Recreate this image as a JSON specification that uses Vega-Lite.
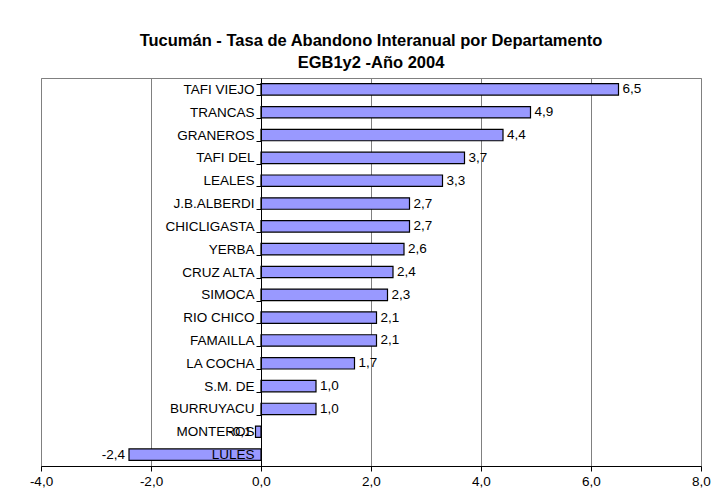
{
  "$schema": "https://vega.github.io/schema/vega-lite/v6.json",
  "width": 660,
  "height": 388,
  "autosize": {"type": "none"},
  "padding": {"left": 41, "top": 78, "right": 18, "bottom": 27},
  "background": "white",
  "title": {
    "text": ["Tucumán - Tasa de Abandono Interanual por Departamento", "EGB1y2 -Año 2004"],
    "font": "Liberation Sans",
    "fontSize": 16.5,
    "fontWeight": "bold",
    "color": "black",
    "lineHeight": 22,
    "anchor": "middle",
    "offset": 0
  },
  "config": {
    "locale": {"number": {"decimal": ",", "thousands": ".", "grouping": [3], "currency": ["$", ""], "minus": "-"}},
    "view": {"stroke": "#808080", "strokeWidth": 1},
    "font": "Liberation Sans"
  },
  "data": {
    "values": [
      {"dep": "TAFI VIEJO", "tasa": 6.5},
      {"dep": "TRANCAS", "tasa": 4.9},
      {"dep": "GRANEROS", "tasa": 4.4},
      {"dep": "TAFI DEL", "tasa": 3.7},
      {"dep": "LEALES", "tasa": 3.3},
      {"dep": "J.B.ALBERDI", "tasa": 2.7},
      {"dep": "CHICLIGASTA", "tasa": 2.7},
      {"dep": "YERBA", "tasa": 2.6},
      {"dep": "CRUZ ALTA", "tasa": 2.4},
      {"dep": "SIMOCA", "tasa": 2.3},
      {"dep": "RIO CHICO", "tasa": 2.1},
      {"dep": "FAMAILLA", "tasa": 2.1},
      {"dep": "LA COCHA", "tasa": 1.7},
      {"dep": "S.M. DE", "tasa": 1.0},
      {"dep": "BURRUYACU", "tasa": 1.0},
      {"dep": "MONTEROS", "tasa": -0.1},
      {"dep": "LULES", "tasa": -2.4}
    ]
  },
  "encoding": {
    "y": {
      "field": "dep",
      "type": "nominal",
      "sort": null,
      "scale": {"paddingInner": 0.5, "paddingOuter": 0.25},
      "axis": {
        "title": null,
        "offset": -220,
        "domainColor": "black",
        "tickColor": "black",
        "tickBand": "extent",
        "tickSize": 5,
        "labelFontSize": 13.5,
        "labelColor": "black",
        "labelPadding": 2,
        "zindex": 1
      }
    },
    "x": {
      "field": "tasa",
      "type": "quantitative",
      "scale": {"domain": [-4, 8], "nice": false},
      "axis": {
        "title": null,
        "values": [-4, -2, 0, 2, 4, 6, 8],
        "format": ".1f",
        "grid": true,
        "gridColor": "#808080",
        "gridOpacity": 1,
        "domainColor": "black",
        "tickColor": "black",
        "tickSize": 5,
        "labelFontSize": 13.5,
        "labelColor": "black",
        "labelPadding": 3,
        "labelFlush": false
      }
    }
  },
  "layer": [
    {
      "mark": {"type": "bar", "color": "#9999FF", "stroke": "black", "strokeWidth": 1.2}
    },
    {
      "transform": [{"filter": "datum.tasa >= 0"}],
      "mark": {"type": "text", "align": "left", "dx": 4, "fontSize": 13.5, "color": "black"},
      "encoding": {"text": {"field": "tasa", "type": "quantitative", "format": ".1f"}}
    },
    {
      "transform": [{"filter": "datum.tasa < 0"}],
      "mark": {"type": "text", "align": "right", "dx": -4, "fontSize": 13.5, "color": "black"},
      "encoding": {"text": {"field": "tasa", "type": "quantitative", "format": ".1f"}}
    }
  ]
}
